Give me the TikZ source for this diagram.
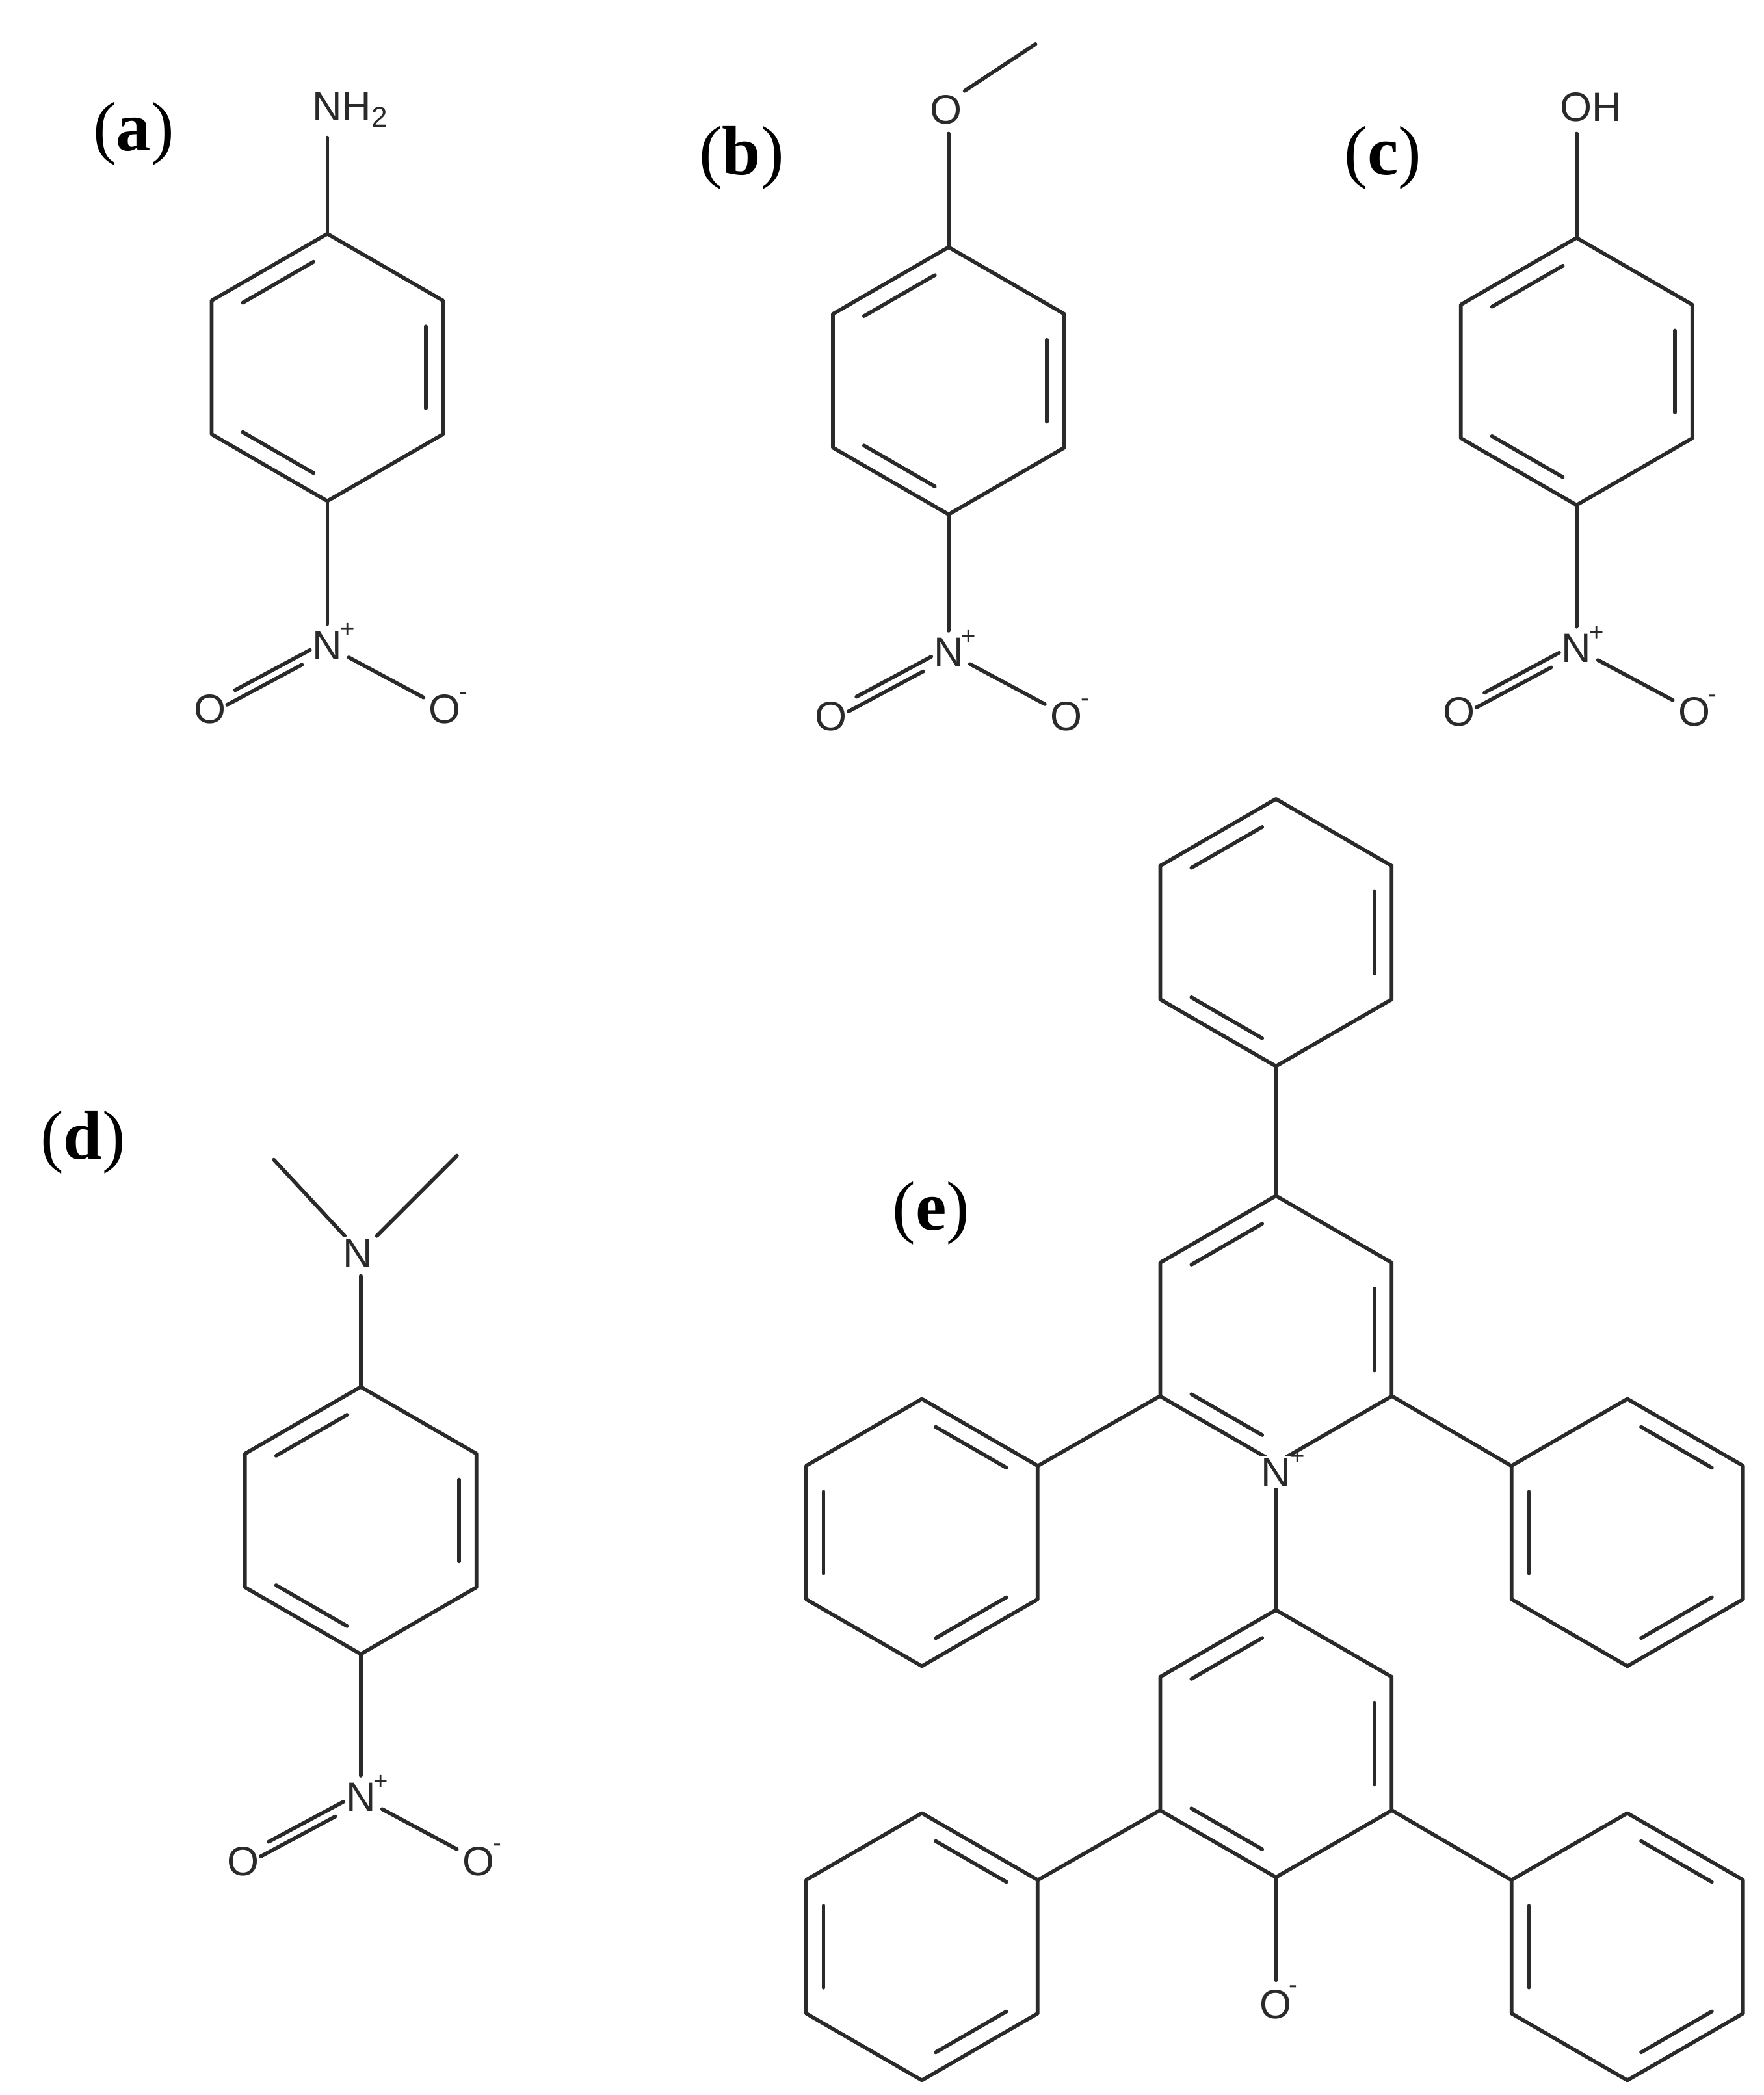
\documentclass[tikz,border=0pt]{standalone}
\usepackage{fontspec}
\setmainfont{Liberation Serif}
\newfontfamily\atomfont{Liberation Sans}
\usetikzlibrary{calc}
\definecolor{ink}{HTML}{2a2a2a}
\tikzset{bond/.style={draw=ink,line width=2.1pt,line cap=round,line join=round},
 atom/.style={font=\atomfont\fontsize{23}{26}\selectfont,text=ink,fill=white,inner sep=1pt},
 plabel/.style={font=\fontsize{39}{42}\selectfont,text=black,inner sep=0pt}}
\newcommand\hexr[3]{\begin{scope}[shift={(#1,-#2)}]
 \draw[bond] (90:100)--(30:100)--(-30:100)--(-90:100)--(-150:100)--(150:100)--cycle;
 \foreach \k in {#3} \draw[bond] ($(90-60*\k:85)!0.14!(30-60*\k:85)$) -- ($(30-60*\k:85)!0.14!(90-60*\k:85)$);
 \end{scope}}
\newcommand\nitro[3]{% x y ringbottom-y
 \draw[bond] (#1,-#3) -- (#1,-#2+16);
 \node[atom] at (#1,-#2) {N};
 \node[atom,fill=none,font=\atomfont\fontsize{14}{15}\selectfont] at (#1+15,-#2+11) {+};
 \node[atom] at (#1-88,-#2-48) {O};
 \node[atom] at (#1+88,-#2-48) {O};
 \node[atom,fill=none,font=\atomfont\fontsize{14}{15}\selectfont] at (#1+102,-#2-38) {-};
 \draw[bond] (#1-16+3,-#2-9+5.5) -- (#1-72+3,-#2-39+5.5);
 \draw[bond] (#1-16-3,-#2-9-5.5) -- (#1-72-3,-#2-39-5.5);
 \draw[bond] (#1+16,-#2-9) -- (#1+72,-#2-39);}
\begin{document}
\begin{tikzpicture}[x=0.75pt,y=0.75pt]
\useasboundingbox[fill=white] (0,0) rectangle (1320,-1568);
% (a)
\node[plabel] (la) at (100,-100) {(\textbf{a})};
\hexr{245}{275}{5,1,3}
\draw[bond] (245,-175) -- (245,-103);
\node[atom,anchor=west] (nh2) at (232,-82) {NH\textsubscript{2}};
\nitro{245}{483}{375}
% (b)
\node[plabel] (lb) at (555,-118) {(\textbf{b})};
\hexr{710}{285}{5,1,3}
\draw[bond] (710,-185) -- (710,-100);
\node[atom] (ob) at (708,-82) {O};
\draw[bond] (722,-68) -- (775,-33);
\nitro{710}{488}{385}
% (c)
\node[plabel] (lc) at (1035,-118) {(\textbf{c})};
\hexr{1180}{278}{5,1,3}
\draw[bond] (1180,-178) -- (1180,-100);
\node[atom,anchor=west] (oh) at (1166,-80) {OH};
\nitro{1180}{485}{378}
% (d)
\node[plabel] (ld) at (62,-855) {(\textbf{d})};
\hexr{270}{1138}{5,1,3}
\draw[bond] (270,-1038) -- (270,-955);
\draw[bond] (258,-925) -- (205,-868);
\draw[bond] (282,-925) -- (342,-865);
\node[atom] (nd) at (268,-938) {N};
\nitro{270}{1345}{1238}
% (e)
\node[plabel] (le) at (697,-908) {(\textbf{e})};
\hexr{955}{995}{5,1,3}
\hexr{955}{698}{5,1,3}
\draw[bond] (955,-895) -- (955,-798);
\hexr{690}{1147}{0,2,4}
\draw[bond] (868,-1045) -- (777,-1097);
\hexr{1218}{1147}{0,2,4}
\draw[bond] (1042,-1045) -- (1131,-1097);
\hexr{955}{1305}{5,1,3}
\draw[bond] (955,-1095) -- (955,-1205);
\node[atom] (ne) at (955,-1102) {N};
\node[atom,fill=none,font=\atomfont\fontsize{14}{15}\selectfont] at (971,-1091) {+};
\hexr{690}{1457}{0,2,4}
\draw[bond] (868,-1355) -- (777,-1407);
\hexr{1218}{1457}{0,2,4}
\draw[bond] (1042,-1355) -- (1131,-1407);
\draw[bond] (955,-1405) -- (955,-1482);
\node[atom] (oe) at (955,-1500) {O};
\node[atom,fill=none,font=\atomfont\fontsize{14}{15}\selectfont] at (968,-1489) {-};
\end{tikzpicture}
\end{document}
